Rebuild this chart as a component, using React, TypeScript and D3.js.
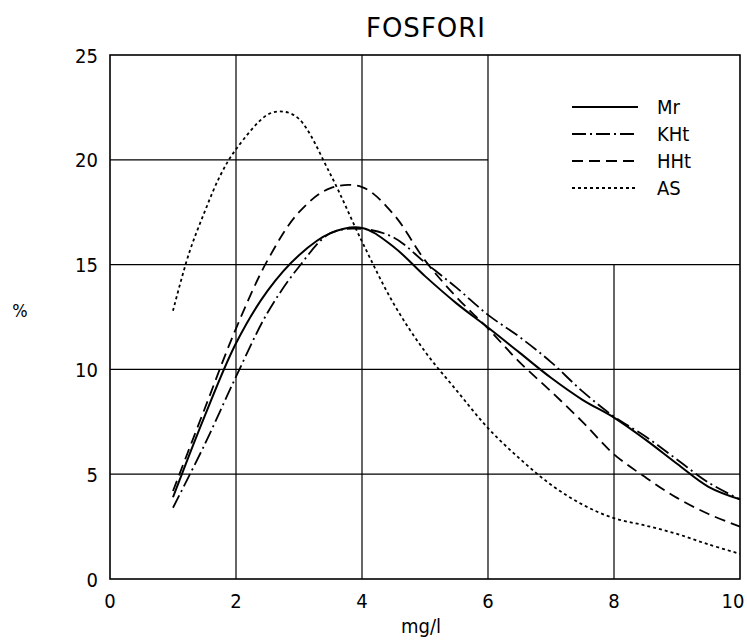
import { useEffect, useRef } from 'react'
import * as d3 from 'd3'

// shared x values (mg/l) for Mr, KHt, HHt
const xValues = [1, 1.5, 2, 2.5, 3, 3.5, 4, 4.5, 5, 5.5, 6, 6.5, 7, 7.5, 8, 8.5, 9, 9.5, 10]
const mrValues = [3.9, 7.75, 11.25, 13.75, 15.45, 16.5, 16.75, 15.85, 14.45, 13.15, 12.0, 10.8, 9.6, 8.55, 7.7, 6.65, 5.5, 4.4, 3.8]
const khtValues = [3.4, 6.4, 9.65, 12.7, 14.9, 16.5, 16.7, 16.3, 15.1, 13.9, 12.6, 11.55, 10.35, 8.95, 7.75, 6.8, 5.7, 4.6, 3.8]
const hhtValues = [4.2, 8.1, 11.95, 15.2, 17.5, 18.65, 18.7, 17.4, 15.2, 13.45, 11.95, 10.35, 8.95, 7.5, 5.95, 4.85, 3.87, 3.1, 2.5]

// AS has its own sample points (sharper peak)
const asX = [1, 1.25, 1.5, 1.75, 2, 2.5, 2.75, 3, 3.5, 4, 4.5, 5, 5.5, 6, 6.5, 7, 7.5, 8, 8.5, 9, 9.5, 10]
const asValues = [12.8, 15.5, 17.5, 19.25, 20.5, 22.15, 22.3, 21.95, 19.3, 16.1, 13.15, 10.85, 9.0, 7.2, 5.75, 4.5, 3.55, 2.9, 2.55, 2.15, 1.65, 1.2]

const seriesNames = ['Mr', 'KHt', 'HHt', 'AS']
const xTicks = [0, 2, 4, 6, 8, 10]
const yTicks = [0, 5, 10, 15, 20, 25]

const dashes: Record<string, string | null> = {
  Mr: null,
  KHt: '14,4,2,4',
  HHt: '11,6',
  AS: '3,3',
}

const font = "'DejaVu Sans Condensed', 'DejaVu Sans', sans-serif"

export default function App() {
  const svgRef = useRef<SVGSVGElement | null>(null)

  useEffect(() => {
    if (!svgRef.current) return
    const svg = d3.select(svgRef.current)
    svg.selectAll('*').remove()

    const x = d3.scaleLinear().domain([0, 10]).range([110, 740])
    const y = d3.scaleLinear().domain([0, 25]).range([579, 55])

    svg.append('rect').attr('width', 747).attr('height', 640).attr('fill', '#fff')

    // title
    svg
      .append('text')
      .attr('x', 426)
      .attr('y', 37)
      .attr('text-anchor', 'middle')
      .attr('font-family', "'DejaVu Sans', sans-serif")
      .attr('font-size', 26)
      .attr('letter-spacing', 1)
      .text('FOSFORI')

    const grid = svg.append('g').attr('stroke', '#000').attr('stroke-width', 1.2)

    // vertical grid lines (x=8 stops under the legend box)
    ;[2, 4, 6].forEach((v) => {
      grid.append('line').attr('x1', x(v)).attr('x2', x(v)).attr('y1', y(0)).attr('y2', y(25))
    })
    grid.append('line').attr('x1', x(8)).attr('x2', x(8)).attr('y1', y(0)).attr('y2', y(15))

    // horizontal grid lines (y=20 stops at x=6)
    ;[5, 10, 15].forEach((v) => {
      grid.append('line').attr('x1', x(0)).attr('x2', x(10)).attr('y1', y(v)).attr('y2', y(v))
    })
    grid.append('line').attr('x1', x(0)).attr('x2', x(6)).attr('y1', y(20)).attr('y2', y(20))

    // frame
    svg
      .append('rect')
      .attr('x', x(0))
      .attr('y', y(25))
      .attr('width', x(10) - x(0))
      .attr('height', y(0) - y(25))
      .attr('fill', 'none')
      .attr('stroke', '#000')
      .attr('stroke-width', 1.6)

    // tick labels
    svg
      .append('g')
      .selectAll('text')
      .data(yTicks)
      .enter()
      .append('text')
      .attr('x', 98)
      .attr('y', (d) => y(d) + 7.5)
      .attr('text-anchor', 'end')
      .attr('font-family', font)
      .attr('font-size', 20)
      .text((d) => d)

    svg
      .append('g')
      .selectAll('text')
      .data(xTicks)
      .enter()
      .append('text')
      .attr('x', (d) => (d === 10 ? x(d) - 7 : x(d)))
      .attr('y', 608)
      .attr('text-anchor', 'middle')
      .attr('font-family', font)
      .attr('font-size', 20)
      .text((d) => d)

    svg
      .append('text')
      .attr('x', 421)
      .attr('y', 633)
      .attr('text-anchor', 'middle')
      .attr('font-family', font)
      .attr('font-size', 20)
      .text('mg/l')

    svg
      .append('text')
      .attr('x', 20)
      .attr('y', 317)
      .attr('text-anchor', 'middle')
      .attr('font-family', font)
      .attr('font-size', 18)
      .text('%')

    // curves
    const line = d3
      .line<[number, number]>()
      .x((d) => x(d[0]))
      .y((d) => y(d[1]))
      .curve(d3.curveCatmullRom.alpha(0.5))

    const seriesData: Record<string, [number, number][]> = {
      Mr: xValues.map((v, i) => [v, mrValues[i]]),
      KHt: xValues.map((v, i) => [v, khtValues[i]]),
      HHt: xValues.map((v, i) => [v, hhtValues[i]]),
      AS: asX.map((v, i) => [v, asValues[i]]),
    }

    seriesNames.forEach((name) => {
      const p = svg
        .append('path')
        .attr('d', line(seriesData[name]))
        .attr('fill', 'none')
        .attr('stroke', '#000')
        .attr('stroke-width', name === 'Mr' ? 2 : 1.8)
      if (dashes[name]) p.attr('stroke-dasharray', dashes[name] as string)
    })

    // legend
    const legendY = [107, 134, 161, 188]
    const legend = svg.append('g')
    seriesNames.forEach((name, i) => {
      const l = legend
        .append('line')
        .attr('x1', 572)
        .attr('x2', 638)
        .attr('y1', legendY[i])
        .attr('y2', legendY[i])
        .attr('stroke', '#000')
        .attr('stroke-width', name === 'Mr' ? 2 : 1.8)
      if (dashes[name]) l.attr('stroke-dasharray', dashes[name] as string)
      legend
        .append('text')
        .attr('x', 657)
        .attr('y', legendY[i] + 7)
        .attr('font-family', font)
        .attr('font-size', 20)
        .text(name)
    })
  }, [])

  return (
    <svg
      ref={svgRef}
      width={747}
      height={640}
      style={{ position: 'absolute', left: 0, top: 0 }}
    ></svg>
  )
}
